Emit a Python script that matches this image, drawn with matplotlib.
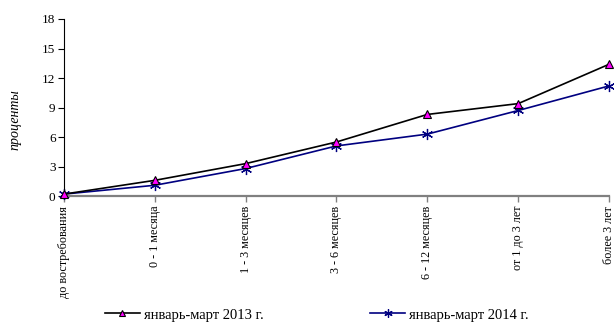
import matplotlib.pyplot as plt

plt.rcParams['font.family'] = ['Liberation Serif', 'DejaVu Serif']

categories = ["до востребования", "0 - 1 месяца", "1 - 3 месяцев", "3 - 6 месяцев",
              "6 - 12 месяцев", "от 1 до 3 лет", "более 3 лет"]
jan_mar_2013 = [0.2, 1.6, 3.3, 5.5, 8.3, 9.4, 13.4]
jan_mar_2014 = [0.2, 1.1, 2.8, 5.1, 6.3, 8.7, 11.2]
y_ticks = [0, 3, 6, 9, 12, 15, 18]

fig = plt.figure(figsize=(6.14, 3.22), dpi=100)
ax = fig.add_axes([0.104, 0.391, 0.888, 0.550])

x = list(range(len(categories)))
ax.plot(x, jan_mar_2013, color="black", lw=1.2, marker="^", markersize=6,
        markerfacecolor="#FF00FF", markeredgecolor="black", markeredgewidth=0.8,
        label="январь-март 2013 г.", zorder=3, clip_on=False)
ax.plot(x, jan_mar_2014, color="#000080", lw=1.2, marker=(6, 2, 0), markersize=8,
        markeredgecolor="#000080", markeredgewidth=0.9,
        label="январь-март 2014 г.", zorder=2, clip_on=False)

ax.set_xlim(0, len(categories) - 1)
ax.set_ylim(0, 18)
ax.set_yticks(y_ticks)
ax.set_xticks(x)
ax.set_xticklabels(categories, rotation=90, fontsize=8.7, va="top", ha="center")
ax.tick_params(axis="y", labelsize=9.5, length=4, width=0.8, direction="out", pad=2)
ax.tick_params(axis="x", length=4, width=1.0, color="#808080", direction="out", pad=3)

for side in ("top", "right"):
    ax.spines[side].set_visible(False)
ax.spines["bottom"].set_color("#808080")
ax.spines["bottom"].set_linewidth(1.6)
ax.spines["left"].set_linewidth(0.8)

ax.set_ylabel("проценты", fontsize=10, style="italic")
ax.yaxis.set_label_coords(-0.078, 0.43)

fig.legend(loc="center left", bbox_to_anchor=(0.171, 0.022), ncol=2, frameon=False,
           fontsize=10.5, handlelength=2.4, columnspacing=7.3, handletextpad=0.28,
           markerscale=0.75, borderpad=0, borderaxespad=0)

fig.savefig("out.png", dpi=100)
